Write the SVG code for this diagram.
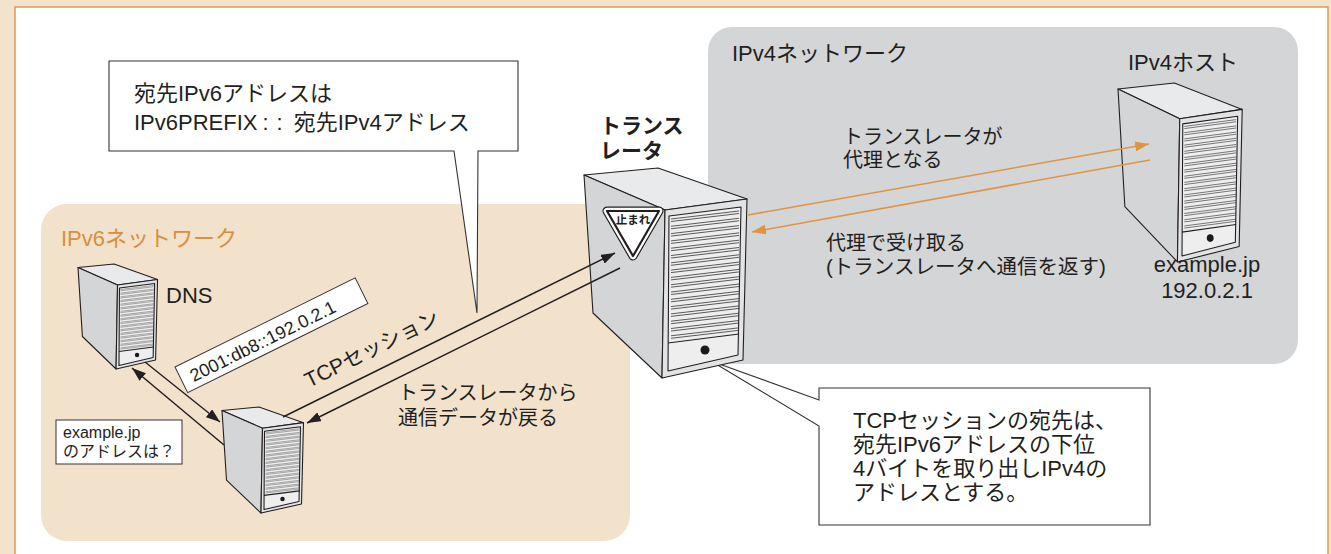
<svg xmlns="http://www.w3.org/2000/svg" width="1331" height="554" viewBox="0 0 1331 554">
  <style>
    .t { font-family: "Liberation Sans", "Noto Sans CJK JP", sans-serif; fill: #231f20; }
    .jp { font-size: 20px; }
    .big { font-size: 22px; }
    .callout { fill: #ffffff; stroke: #333333; stroke-width: 1.1; }
    .conn { stroke: #231f20; stroke-width: 1.5; fill: none; }
    .oconn { stroke: #df9540; stroke-width: 1.6; fill: none; }
    .edge { stroke: #231f20; stroke-width: 1.1; vector-effect: non-scaling-stroke; stroke-linejoin: round; }
    .slat { stroke: #333333; stroke-width: 0.8; vector-effect: non-scaling-stroke; }
  </style>
  <defs>
    <marker id="ah" viewBox="0 0 14 10" refX="14" refY="5" markerWidth="14" markerHeight="10" markerUnits="userSpaceOnUse" orient="auto">
      <path d="M0,0 L14,5 L0,10 z" fill="#231f20"/>
    </marker>
    <marker id="ahO" viewBox="0 0 14 10" refX="14" refY="5" markerWidth="14" markerHeight="10" markerUnits="userSpaceOnUse" orient="auto">
      <path d="M0,0 L14,5 L0,10 z" fill="#df9540"/>
    </marker>
    <!-- tower server in a 164 x 210 local box -->
    <g id="server">
      <polygon class="edge" points="0,7 74,0 163,31 81,42" fill="#e9eaeb"/>
      <polygon class="edge" points="0,7 81,42 78,210 9,145" fill="#d4d5d7"/>
      <polygon class="edge" points="81,42 163,31 159,192 78,210" fill="#e2e3e4"/>
      <polygon class="edge" points="85,48 157,39 154,187 84,203" fill="#eeeeef"/>
      <g class="slat">
        <line x1="87" y1="51" x2="155" y2="43"/><line x1="87" y1="53.5" x2="155" y2="45.5"/>
        <line x1="87" y1="58.3" x2="155" y2="50.3"/><line x1="87" y1="60.8" x2="155" y2="52.8"/>
        <line x1="87" y1="65.6" x2="155" y2="57.6"/><line x1="87" y1="68.1" x2="155" y2="60.1"/>
        <line x1="87" y1="72.9" x2="155" y2="64.9"/><line x1="87" y1="75.4" x2="155" y2="67.4"/>
        <line x1="87" y1="80.2" x2="155" y2="72.2"/><line x1="87" y1="82.7" x2="155" y2="74.7"/>
        <line x1="87" y1="87.5" x2="155" y2="79.5"/><line x1="87" y1="90" x2="155" y2="82"/>
        <line x1="87" y1="94.8" x2="155" y2="86.8"/><line x1="87" y1="97.3" x2="155" y2="89.3"/>
        <line x1="87" y1="102.1" x2="155" y2="94.1"/><line x1="87" y1="104.6" x2="155" y2="96.6"/>
        <line x1="87" y1="109.4" x2="155" y2="101.4"/><line x1="87" y1="111.9" x2="155" y2="103.9"/>
        <line x1="87" y1="116.7" x2="155" y2="108.7"/><line x1="87" y1="119.2" x2="155" y2="111.2"/>
        <line x1="87" y1="124" x2="155" y2="116"/><line x1="87" y1="126.5" x2="155" y2="118.5"/>
        <line x1="87" y1="131.3" x2="155" y2="123.3"/><line x1="87" y1="133.8" x2="155" y2="125.8"/>
        <line x1="87" y1="138.6" x2="155" y2="130.6"/><line x1="87" y1="141.1" x2="155" y2="133.1"/>
        <line x1="87" y1="145.9" x2="155" y2="137.9"/><line x1="87" y1="148.4" x2="155" y2="140.4"/>
        <line x1="87" y1="153.2" x2="155" y2="145.2"/><line x1="87" y1="155.7" x2="155" y2="147.7"/>
        <line x1="87" y1="160.5" x2="155" y2="152.5"/><line x1="87" y1="163" x2="155" y2="155"/>
        <line x1="87" y1="167.8" x2="155" y2="159.8"/><line x1="87" y1="170.3" x2="155" y2="162.3"/>
      </g>
      <line class="edge" x1="84" y1="175" x2="155" y2="166"/>
      <ellipse cx="121" cy="182" rx="4.5" ry="4.5" fill="#1a1a1a"/>
    </g>
  </defs>

  <!-- page -->
  <rect x="0" y="0" width="1331" height="554" fill="#f3e3cd"/>
  <rect x="15" y="7" width="1313" height="560" fill="#ffffff" stroke="#e09a4c" stroke-width="1.5"/>

  <!-- network areas -->
  <g id="ipv4-network">
    <rect x="708" y="27" width="590" height="337" rx="24" fill="#d4d5d7"/>
    <text class="t big" x="732" y="61">IPv4ネットワーク</text>
  </g>
  <g id="ipv6-network">
    <rect x="41" y="204" width="589" height="337" rx="26" fill="#f2e2cc"/>
    <text class="t big" x="61" y="246" style="fill:#d98f3c">IPv6ネットワーク</text>
  </g>

  <!-- notes -->
  <g id="note-prefix">
    <polygon class="callout" points="109,61 518,61 518,151 478,151 477,313 454,151 109,151"/>
    <text class="t big" x="134" y="101">宛先IPv6アドレスは</text>
    <text class="t big" x="134" y="130">IPv6PREFIX<tspan dx="5" letter-spacing="8">::</tspan><tspan dx="3">宛先IPv4アドレス</tspan></text>
  </g>
  <g id="note-session">
    <polygon class="callout" points="819,388 1150,388 1150,525 819,525 819,426 711,361 819,400"/>
    <text class="t big" x="853" y="428">TCPセッションの宛先は、</text>
    <text class="t big" x="853" y="452">宛先IPv6アドレスの下位</text>
    <text class="t big" x="853" y="476">4バイトを取り出しIPv4の</text>
    <text class="t big" x="853" y="500">アドレスとする。</text>
  </g>

  <!-- servers -->
  <g id="dns">
    <use href="#server" transform="translate(78,264) scale(0.488,0.5)"/>
    <text class="t big" x="166" y="303">DNS</text>
  </g>
  <g id="client">
    <use href="#server" transform="translate(222,407) scale(0.5,0.505)"/>
  </g>
  <g id="translator">
    <use href="#server" transform="translate(584,168)"/>
    <path d="M607,211 L659,211 L633,256 Z" fill="none" stroke="#231f20" stroke-width="9" stroke-linejoin="round"/>
    <path d="M607,211 L659,211 L633,256 Z" fill="#ffffff" stroke="#ffffff" stroke-width="6.6" stroke-linejoin="round"/>
    <path d="M607,211 L659,211 L633,256 Z" fill="#ffffff" stroke="#231f20" stroke-width="2.2" stroke-linejoin="round"/>
    <text class="t" x="633" y="224" text-anchor="middle" style="font-size:11.5px;font-weight:bold">止まれ</text>
    <text class="t" x="600" y="133" style="font-size:21px;font-weight:bold">トランス</text>
    <text class="t" x="600" y="158" style="font-size:21px;font-weight:bold">レータ</text>
  </g>
  <g id="ipv4-host">
    <use href="#server" transform="translate(1118,83) scale(0.762,0.852)"/>
    <text class="t big" x="1128" y="70">IPv4ホスト</text>
    <text class="t big" x="1207" y="272" text-anchor="middle">example.jp</text>
    <text class="t big" x="1207" y="298" text-anchor="middle">192.0.2.1</text>
  </g>

  <!-- connectors -->
  <g id="connectors">
    <line class="conn" x1="145" y1="362" x2="220" y2="422" marker-end="url(#ah)"/>
    <line class="conn" x1="224" y1="445" x2="132" y2="368" marker-end="url(#ah)"/>
    <line class="conn" x1="283" y1="417" x2="615" y2="253" marker-end="url(#ah)"/>
    <line class="conn" x1="620" y1="268" x2="307" y2="423" marker-end="url(#ah)"/>
    <line class="oconn" x1="748" y1="215" x2="1149" y2="144" marker-end="url(#ahO)"/>
    <line class="oconn" x1="1150" y1="160" x2="752" y2="232" marker-end="url(#ahO)"/>
  </g>

  <!-- connector labels -->
  <g id="labels">
    <g transform="translate(175,367) rotate(-26.3)">
      <rect x="0" y="0" width="201" height="28.6" fill="#ffffff" stroke="#333333" stroke-width="1"/>
      <text class="t" x="10" y="22" style="font-size:18px">2001:db8::192.0.2.1</text>
    </g>
    <text class="t" transform="translate(309,388) rotate(-26.3)" style="font-size:21px">TCPセッション</text>
    <text class="t jp" x="398" y="400">トランスレータから</text>
    <text class="t jp" x="398" y="425">通信データが戻る</text>
    <g>
      <rect x="56" y="420" width="126" height="44" fill="#ffffff" stroke="#333333" stroke-width="1"/>
      <text class="t" x="63" y="438" style="font-size:16px">example.jp</text>
      <text class="t" x="63" y="457" style="font-size:16px">のアドレスは？</text>
    </g>
    <text class="t jp" x="843" y="144">トランスレータが</text>
    <text class="t jp" x="843" y="167">代理となる</text>
    <text class="t jp" x="826" y="250">代理で受け取る</text>
    <text class="t" x="826" y="274" style="font-size:20.5px">(トランスレータへ通信を返す)</text>
  </g>
</svg>
